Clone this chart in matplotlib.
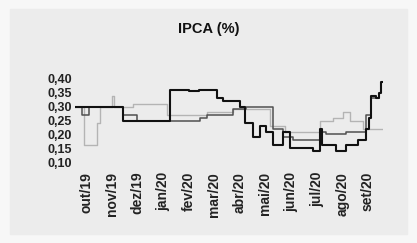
import matplotlib.pyplot as plt
import matplotlib.patches as mpatches
import numpy as np

plt.rcParams['font.family'] = ['Liberation Sans', 'DejaVu Sans']

months = ['out/19', 'nov/19', 'dez/19', 'jan/20', 'fev/20', 'mar/20',
          'abr/20', 'mai/20', 'jun/20', 'jul/20', 'ago/20', 'set/20']

# step series: edges in months (0 = out/19), value held until next edge
black_x = [-0.43, 1.45, 3.27, 4.0, 4.4, 5.09, 5.35, 6.0, 6.19, 6.52, 6.78,
           7.04, 7.3, 7.69, 7.95, 8.86, 9.12, 9.2, 9.77, 10.16, 10.61,
           10.94, 11.05, 11.13, 11.3, 11.45, 11.52, 11.58]
black_y = [0.30, 0.25, 0.36, 0.355, 0.36, 0.33, 0.32, 0.30, 0.24, 0.19, 0.23,
           0.21, 0.16, 0.21, 0.15, 0.14, 0.22, 0.16, 0.14, 0.16, 0.18,
           0.22, 0.26, 0.34, 0.33, 0.35, 0.39, 0.39]

dark_x = [-0.43, -0.15, 0.1, 1.45, 1.97, 4.44, 4.7, 5.74, 6.26, 7.3, 7.69,
          8.08, 9.12, 9.38, 10.16, 10.94, 11.13, 11.45]
dark_y = [0.30, 0.27, 0.30, 0.27, 0.25, 0.26, 0.27, 0.29, 0.30, 0.22, 0.19,
          0.18, 0.21, 0.20, 0.21, 0.27, 0.33, 0.33]

light_x = [-0.43, -0.1, 0.42, 0.55, 1.0, 1.1, 1.84, 3.14, 4.7, 5.74, 7.17,
           7.75, 9.12, 9.64, 10.03, 10.29, 10.81, 11.58]
light_y = [0.30, 0.16, 0.24, 0.30, 0.34, 0.30, 0.31, 0.27, 0.28, 0.29, 0.23,
           0.21, 0.25, 0.26, 0.28, 0.25, 0.22, 0.22]

fig = plt.figure(figsize=(4.17, 2.43), dpi=100, facecolor='#f7f7f7')
fig.patches.append(mpatches.Rectangle((0.025, 0.035), 0.95, 0.93,
                                      transform=fig.transFigure,
                                      color='#ececec', zorder=-5))
ax = fig.add_axes([0.18, 0.333, 0.738, 0.342])
ax.set_facecolor('none')

ax.step(light_x, light_y, where='post', color='#b4b4b4', lw=1.0)
ax.step(dark_x, dark_y, where='post', color='#505050', lw=1.1)
ax.step(black_x, black_y, where='post', color='#111111', lw=1.5)

ax.set_xlim(-0.43, 11.58)
ax.set_ylim(0.10, 0.40)
ax.set_yticks(np.arange(0.10, 0.401, 0.05))
ax.set_yticklabels([f'{v:.2f}'.replace('.', ',') for v in np.arange(0.10, 0.401, 0.05)],
                   fontsize=9, fontweight='bold', color='#222222')
ax.set_xticks(range(len(months)))
ax.set_xticklabels(months, rotation=90, fontsize=10, fontweight='bold',
                   color='#222222')
ax.tick_params(length=0, pad=2)
ax.tick_params(axis='x', pad=7)
for s in ax.spines.values():
    s.set_visible(False)

fig.text(0.5, 0.88, 'IPCA (%)', ha='center', va='center', fontsize=10.5,
         fontweight='bold', color='#111111')

plt.savefig('out.png', dpi=100, facecolor=fig.get_facecolor())
